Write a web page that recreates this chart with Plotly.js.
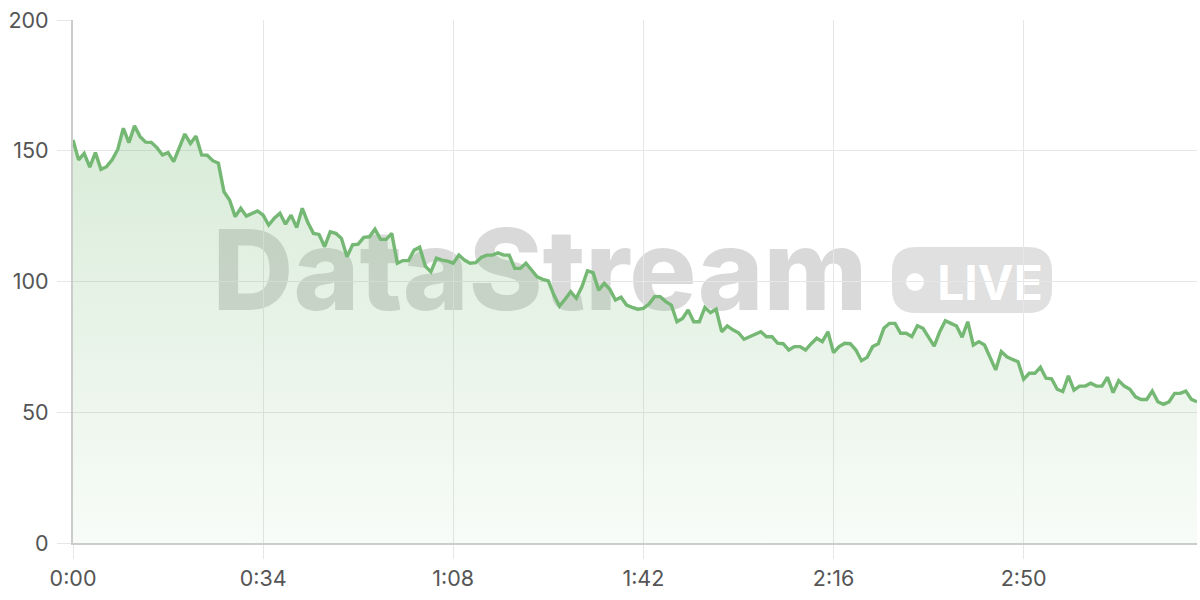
<!DOCTYPE html>
<html>
<head>
<meta charset="utf-8">
<script src="https://cdn.plot.ly/plotly-3.0.1.min.js"></script>
<style>html,body{margin:0;padding:0;background:#fff;}#chart{width:1200px;height:600px;}</style>
</head>
<body>
<div id="chart"></div>
<script>
// values sampled once per second
const values = [
154.1,146.5,149,143.7,149.3,142.9,143.9,146.5,150.5,158.6,153.1,159.5,155.4,153.3,153.2,151.2,148.4,149.3,145.8,151.3,156.4,152.8,155.6,148.4,148.3,146.2,145.2,134.3,131.2,124.8,128,125,126.1,127,
125.4,121.6,124.2,126.1,121.9,125.4,120.6,128,122.5,118.4,118,113.3,119,118.4,116.5,109.5,114,114.3,116.9,117.1,120,116.1,116.1,118.4,107,108,108,112,113.1,105.9,103.7,108.9,108.2,107.8,
107,110.1,108.2,107,107.2,109.2,110.1,110.1,111,110.1,110.1,105,105,107,104.4,101.8,100.8,100.2,94.8,90.6,93.2,96.1,93.6,98,104.1,103.4,96.7,99.3,97,92.9,94,91,90.1,89.4,
89.7,91.4,94.2,94.2,92.3,91,84.6,85.9,89.1,84.6,84.6,90.1,88.1,89.4,80.8,83,81.5,80.4,77.9,78.9,79.8,80.8,78.9,78.9,76.4,76.2,73.8,75.1,75.1,73.8,76.2,78.3,77,80.8,
72.8,75.1,76.4,76.2,73.8,69.7,71,75.1,76.2,82.1,84,84,80.2,80.2,78.9,83.1,82.1,78.9,75.3,80.8,85,84,83,78.7,84.6,75.7,77,75.7,70.6,66.2,73.2,71.2,70.2,69.3,
62.6,64.9,64.9,67.2,63,62.8,58.8,57.9,63.9,58.5,60,60,61.1,60,60,63.4,57.5,62.1,60,58.8,55.9,54.9,54.9,58.1,54,53,54,57.2,57.2,58.1,54.9,54
];
const seconds = values.map((_, i) => i);
const tickSeconds = [0, 34, 68, 102, 136, 170];
const tickLabels = ["0:00", "0:34", "1:08", "1:42", "2:16", "2:50"];
const yTicks = [0, 50, 100, 150, 200];
const watermarkText = "DataStream";
const badgeText = "LIVE";

// plot area in pixels (for watermark placement)
const PL = 73, PR = 1197, PT = 20, PB = 543;
const px = x => (x - PL) / (PR - PL);
const py = y => (PB - y) / (PB - PT);
function roundRect(x0, y0, x1, y1, r) {
  const p = (x, y) => px(x) + ',' + py(y);
  return 'M' + p(x0 + r, y0) + ' L' + p(x1 - r, y0) + ' Q' + p(x1, y0) + ' ' + p(x1, y0 + r) +
    ' L' + p(x1, y1 - r) + ' Q' + p(x1, y1) + ' ' + p(x1 - r, y1) +
    ' L' + p(x0 + r, y1) + ' Q' + p(x0, y1) + ' ' + p(x0, y1 - r) +
    ' L' + p(x0, y0 + r) + ' Q' + p(x0, y0) + ' ' + p(x0 + r, y0) + ' Z';
}

const trace = {
  x: seconds, y: values, type: 'scatter', mode: 'lines',
  line: {color: '#74b874', width: 3.4},
  fill: 'tozeroy',
  fillgradient: {type: 'vertical', start: 0, stop: 160,
    colorscale: [[0, 'rgba(116,184,116,0.05)'], [1, 'rgba(116,184,116,0.28)']]},
  hoverinfo: 'skip'
};

const font = {family: 'Inter, "Noto Sans", sans-serif', size: 21.5, color: '#555'};
const layout = {
  width: 1200, height: 600,
  margin: {l: PL, r: 1200 - PR, t: PT, b: 600 - PB},
  paper_bgcolor: '#fff', plot_bgcolor: 'rgba(0,0,0,0)',
  showlegend: false,
  font: font,
  xaxis: {
    range: [0, 201], tickvals: tickSeconds, ticktext: tickLabels,
    showgrid: true, gridcolor: '#e6e6e6', gridwidth: 1,
    showline: true, linecolor: '#cccccc', linewidth: 2,
    ticks: 'outside', ticklen: 14, tickcolor: '#e6e6e6', tickwidth: 1,
    zeroline: false, tickfont: font, ticklabelstandoff: 1
  },
  yaxis: {
    range: [0, 200], tickvals: yTicks,
    showgrid: true, gridcolor: '#e6e6e6', gridwidth: 1,
    showline: true, linecolor: '#cccccc', linewidth: 2,
    ticks: 'outside', ticklen: 14, tickcolor: '#e6e6e6', tickwidth: 1,
    zeroline: false, tickfont: font, ticklabelstandoff: 4
  },
  shapes: [
    {type: 'rect', xref: 'paper', yref: 'paper', x0: px(200), x1: px(880), y0: py(320), y1: py(212),
     fillcolor: 'rgba(0,0,0,0)', line: {width: 0}, layer: 'below',
     label: {text: watermarkText, textposition: 'middle center',
       font: {family: 'Inter, "Liberation Sans", sans-serif', size: 112, weight: 800, color: 'rgba(0,0,0,0.15)'}}},
    {type: 'path', xref: 'paper', yref: 'paper', path: roundRect(892, 247, 1052, 313, 24),
     fillcolor: 'rgba(0,0,0,0.12)', line: {width: 0}, layer: 'below'},
    {type: 'circle', xref: 'paper', yref: 'paper', x0: px(906), x1: px(924), y0: py(291), y1: py(273),
     fillcolor: '#ffffff', line: {width: 0}, layer: 'below'},
    {type: 'rect', xref: 'paper', yref: 'paper', x0: px(930), x1: px(1050), y0: py(300), y1: py(262),
     fillcolor: 'rgba(0,0,0,0)', line: {width: 0}, layer: 'below',
     label: {text: badgeText, textposition: 'middle center',
       font: {family: 'Inter, "Liberation Sans", sans-serif', size: 48, weight: 700, color: '#ffffff'}}}
  ]
};

Plotly.newPlot('chart', [trace], layout, {displayModeBar: false, staticPlot: true});
</script>
</body>
</html>
